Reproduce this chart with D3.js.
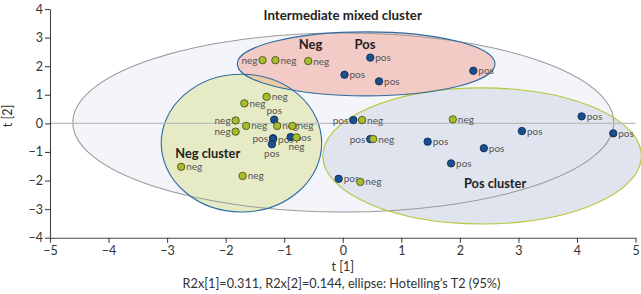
<!DOCTYPE html>
<html><head><meta charset="utf-8">
<script src="https://cdn.jsdelivr.net/npm/d3@7"></script>
<style>body{margin:0;background:#fff} svg{display:block}</style>
</head><body><svg id="c" width="641" height="294"></svg>
<script>
const xTicks = [-5,-4,-3,-2,-1,0,1,2,3,4,5];
const yTicks = [-4,-3,-2,-1,0,1,2,3,4];

const pointClass = ["neg","neg","neg","pos","pos","pos","pos","pos","pos","neg","pos","pos","pos","pos",
  "pos","neg","pos","neg","pos","neg","neg","neg","neg","neg","pos","neg","neg","neg","neg","neg",
  "pos","pos","pos","pos","neg"];
const pointX = [-1.37,-1.15,-0.59,0.47,0.03,0.62,2.23,4.08,4.62,1.88,3.06,1.45,2.41,1.85,
  0.18,0.33,0.47,0.52,-0.07,0.30,-1.71,-2.76,-1.30,-1.68,-1.17,-1.83,-1.83,-1.65,-1.12,-0.86,
  -1.19,-1.19,-1.21,-0.89,-0.79];
const pointY = [2.21,2.21,2.18,2.30,1.70,1.47,1.84,0.245,-0.35,0.14,-0.27,-0.64,-0.87,-1.40,
  0.115,0.115,-0.55,-0.55,-1.94,-2.05,-1.84,-1.52,0.93,0.70,0.13,0.10,-0.29,-0.09,-0.09,-0.09,
  -0.52,-0.55,-0.73,-0.48,-0.49];
const labelSide = ["l","r","r","r","r","r","r","r","r","r","r","r","r","r",
  "l","r","l","r","r","r","r","r","r","r","a","l","l","r","r","r",
  "l","r","b","r","b"];

const ellipseName = ["Intermediate mixed cluster","Pos cluster","Neg cluster","Neg Pos"];
const ellipseCx = [0.01, 2.38, -1.73, 0.40];
const ellipseCy = [0.03, -1.14, -0.69, 2.08];
const ellipseRx = [4.62, 2.72, 1.37, 2.20];
const ellipseRy = [3.13, 2.38, 2.41, 1.12];
const ellipseFill = ["#f3f5fa","#dfe4ef","#e6ebc6","#f2cac6"];
const ellipseStroke = ["#9a9a9a","#b8c63a","#2e6ca4","#2e6ca4"];

const svg = d3.select("#c");
const x = d3.scaleLinear().domain([-5,5]).range([50,635.5]);
const y = d3.scaleLinear().domain([-4,4]).range([237.7,9]);
const FONT = "Lato, 'Noto Sans', sans-serif";

const defs = svg.append("defs");
const ell = ellipseName.map((n,i)=>({n,i,cx:x(ellipseCx[i]),cy:y(ellipseCy[i]),
  rx:x(ellipseRx[i])-x(0),ry:y(0)-y(ellipseRy[i])}));

const gF = svg.append("g");
ell.forEach(e=>{
  gF.append("ellipse").attr("cx",e.cx).attr("cy",e.cy).attr("rx",e.rx).attr("ry",e.ry)
    .attr("fill",ellipseFill[e.i]);
});
defs.append("clipPath").attr("id","pinkclip").append("ellipse")
  .attr("cx",ell[3].cx).attr("cy",ell[3].cy).attr("rx",ell[3].rx).attr("ry",ell[3].ry);
gF.append("ellipse").attr("cx",ell[2].cx).attr("cy",ell[2].cy).attr("rx",ell[2].rx).attr("ry",ell[2].ry)
  .attr("fill","#ebcba8").attr("clip-path","url(#pinkclip)");
ell.forEach(e=>{
  gF.append("ellipse").attr("cx",e.cx).attr("cy",e.cy).attr("rx",e.rx).attr("ry",e.ry)
    .attr("fill","none").attr("stroke",ellipseStroke[e.i]).attr("stroke-width",1.1);
});

svg.append("line").attr("x1",x(-5)).attr("x2",x(5)).attr("y1",y(0)).attr("y2",y(0))
  .attr("stroke","#bdbdbd").attr("stroke-width",1.2);

const fmt = d => d<0 ? "\u2212"+Math.abs(d) : String(d);
const ax = svg.append("g").attr("transform",`translate(0,${y(-4)})`)
  .call(d3.axisBottom(x).tickValues(xTicks).tickFormat(fmt).tickSize(5).tickSizeOuter(0).tickPadding(3));
const ay = svg.append("g").attr("transform",`translate(${x(-5)},0)`)
  .call(d3.axisLeft(y).tickValues(yTicks).tickFormat(fmt).tickSize(5).tickSizeOuter(0).tickPadding(2));
[ax,ay].forEach(a=>{
  a.selectAll("path,line").attr("stroke","#444").attr("stroke-width",1.1);
  a.selectAll("text").attr("fill","#333").style("font-family",FONT).style("font-size","12.5px");
});

const pts = pointX.map((v,i)=>({x:x(v),y:y(pointY[i]),c:pointClass[i],s:labelSide[i]}));
svg.append("g").selectAll("text").data(pts).join("text")
  .attr("x",d=>d.s==="r"?d.x+5:d.s==="l"?d.x-5:d.x)
  .attr("y",d=>d.s==="a"?d.y-6:d.s==="b"?d.y+13:d.y+3.5)
  .attr("text-anchor",d=>d.s==="r"?"start":d.s==="l"?"end":"middle")
  .attr("fill","#555").style("font-family",FONT).style("font-size","10px")
  .text(d=>d.c);
svg.append("g").selectAll("circle").data(pts).join("circle")
  .attr("cx",d=>d.x).attr("cy",d=>d.y).attr("r",3.7)
  .attr("fill",d=>d.c==="neg"?"#a8bd2e":"#1b4f8c")
  .attr("stroke",d=>d.c==="neg"?"#4a561a":"#0e2f5c").attr("stroke-width",0.9);

const ann = [
  {t:"Intermediate mixed cluster", x:0.0, y:3.6, a:"middle", s:13.3},
  {t:"Neg", x:-0.55, y:2.6, a:"middle", s:13},
  {t:"Pos", x:0.38, y:2.6, a:"middle", s:13},
  {t:"Neg cluster", x:-2.86, y:-1.2, a:"start", s:12.8},
  {t:"Pos cluster", x:2.07, y:-2.27, a:"start", s:12.8}
];
svg.append("g").selectAll("text").data(ann).join("text")
  .attr("x",d=>x(d.x)).attr("y",d=>y(d.y)).attr("text-anchor",d=>d.a)
  .attr("fill","#222").style("font-family",FONT).style("font-weight","bold").style("font-size",d=>d.s+"px")
  .text(d=>d.t);

svg.append("text").attr("x",x(0)).attr("y",271).attr("text-anchor","middle")
  .attr("fill","#333").style("font-family",FONT).style("font-size","12.5px").text("t [1]");
svg.append("text").attr("transform","translate(12,116) rotate(-90)").attr("text-anchor","middle")
  .attr("fill","#333").style("font-family",FONT).style("font-size","12.5px").text("t [2]");
svg.append("text").attr("x",341.5).attr("y",288).attr("text-anchor","middle")
  .attr("fill","#333").style("font-family",FONT).style("font-size","12.7px")
  .text("R2x[1]=0.311, R2x[2]=0.144, ellipse: Hotelling\u2019s T2 (95%)");
</script></body></html>
